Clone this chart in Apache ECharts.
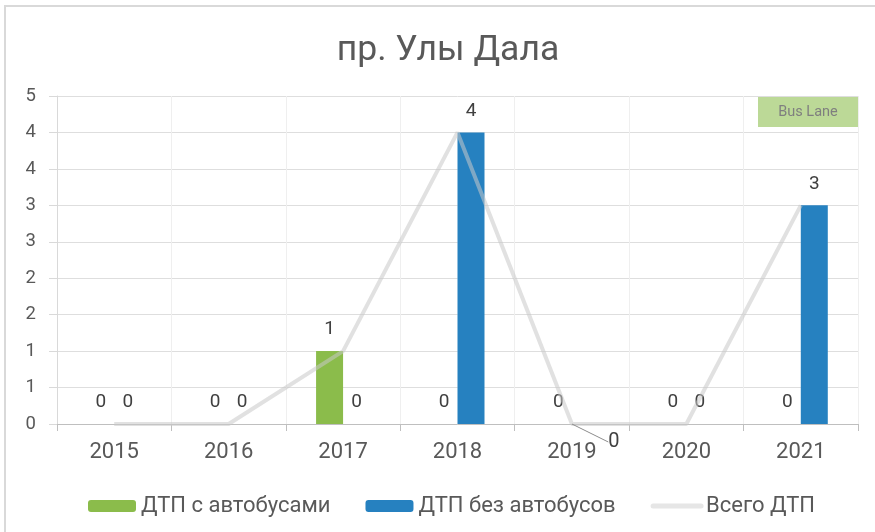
<!DOCTYPE html>
<html>
<head>
<meta charset="utf-8">
<script src="https://cdn.jsdelivr.net/npm/echarts@6/dist/echarts.min.js"></script>
<style>
  html, body { margin: 0; padding: 0; background: #fff; }
  #chart { width: 875px; height: 532px; }
</style>
</head>
<body>
<div id="chart"></div>
<script>
// данные графика
var years = ['2015', '2016', '2017', '2018', '2019', '2020', '2021'];
var withBus = [0, 0, 1, 0, 0, 0, 0];      // ДТП с автобусами
var withoutBus = [0, 0, 0, 4, 0, 0, 3];   // ДТП без автобусов
var total = [0, 0, 1, 4, 0, 0, 3];        // Всего ДТП
var hiddenBlueLabel = [4];                // подпись закрыта подписью линии
var lineLabelShown = [4];                 // у линии видна только одна подпись

var chart = echarts.init(document.getElementById('chart'));

var txt = '#595959';
var font = 'Roboto';
var valLabel = { fontFamily: font, fontSize: 19, color: '#404040' };

// синие столбики: одну подпись прячем
var blueData = withoutBus.map(function (v, i) {
    if (hiddenBlueLabel.indexOf(i) >= 0) {
        return { value: v, label: { show: false } };
    }
    return v;
});

// линия: подпись только в 2019
var lineData = total.map(function (v, i) {
    if (lineLabelShown.indexOf(i) >= 0) {
        return {
            value: v,
            label: { show: true, position: 'inside', fontFamily: font, fontSize: 20, color: '#404040' }
        };
    }
    return v;
});

var option = {
    animation: false,
    textStyle: { fontFamily: font },
    title: {
        text: 'пр. Улы Дала',
        left: 443,
        textAlign: 'center',
        top: 28,
        textStyle: { fontFamily: font, fontSize: 35.5, fontWeight: 'normal', color: txt }
    },
    legend: {
        top: 490,
        left: 83,
        itemWidth: 48,
        itemHeight: 12,
        itemGap: 35,
        textStyle: { fontFamily: font, fontSize: 22, color: txt },
        data: [
            'ДТП с автобусами',
            'ДТП без автобусов',
            {
                name: 'Всего ДТП',
                itemStyle: { opacity: 0 },
                lineStyle: { width: 5, cap: 'round', color: '#e6e6e6' }
            }
        ]
    },
    grid: {
        left: 57,
        right: 17,
        top: 96,
        bottom: 108,
        containLabel: false
    },
    xAxis: {
        type: 'category',
        data: years,
        boundaryGap: true,
        axisLine: { lineStyle: { color: '#bfbfbf', width: 1 } },
        axisTick: { show: true, length: 7, lineStyle: { color: '#bfbfbf' } },
        axisLabel: { fontFamily: font, fontSize: 22, color: txt, margin: 17 },
        splitLine: { show: true, lineStyle: { color: '#efefef' } }
    },
    yAxis: {
        type: 'value',
        min: 0,
        max: 4.5,
        interval: 0.5,
        axisLine: { show: true, lineStyle: { color: '#d9d9d9' } },
        axisTick: { show: true, inside: false, length: 8, lineStyle: { color: '#d9d9d9' } },
        axisLabel: {
            fontFamily: font, fontSize: 18.5, color: txt, margin: 21,
            formatter: function (v) { return Math.round(v); }
        },
        splitLine: { show: true, lineStyle: { color: '#dedede' } }
    },
    series: [
        {
            name: 'ДТП с автобусами',
            type: 'bar',
            data: withBus,
            barWidth: 27,
            barGap: '0%',
            itemStyle: { color: '#8bbc4b' },
            label: Object.assign({ show: true, position: 'top', distance: 12 }, valLabel)
        },
        {
            name: 'ДТП без автобусов',
            type: 'bar',
            data: blueData,
            barWidth: 27,
            itemStyle: { color: '#2681c0' },
            label: Object.assign({ show: true, position: 'top', distance: 12 }, valLabel)
        },
        {
            name: 'Всего ДТП',
            type: 'line',
            data: lineData,
            symbol: 'circle',
            symbolSize: 0.1,
            showSymbol: true,
            z: 5,
            lineStyle: { color: 'rgba(200,200,200,0.55)', width: 4 },
            itemStyle: { color: 'rgba(200,200,200,0.55)' },
            label: { show: false },
            labelLine: { show: true, lineStyle: { color: '#8c8c8c', width: 1 } },
            labelLayout: function (p) {
                if (lineLabelShown.indexOf(p.dataIndex) >= 0) {
                    return { dx: 42, dy: 18, fontSize: 20 };
                }
            }
        }
    ],
    graphic: [
        {
            type: 'rect',
            shape: { x: 5, y: 6, width: 900, height: 560 },
            style: { fill: 'none', stroke: '#d9d9d9', lineWidth: 2 },
            silent: true
        },
        {
            type: 'rect',
            shape: { x: 758, y: 97, width: 100, height: 30 },
            style: { fill: '#bcd997' },
            silent: true
        },
        {
            type: 'text',
            x: 808,
            y: 112,
            style: {
                text: 'Bus Lane',
                fontFamily: font,
                fontSize: 14.5,
                fill: '#7f7f7f',
                align: 'center',
                verticalAlign: 'middle'
            },
            silent: true
        }
    ]
};

chart.setOption(option);
</script>
</body>
</html>
